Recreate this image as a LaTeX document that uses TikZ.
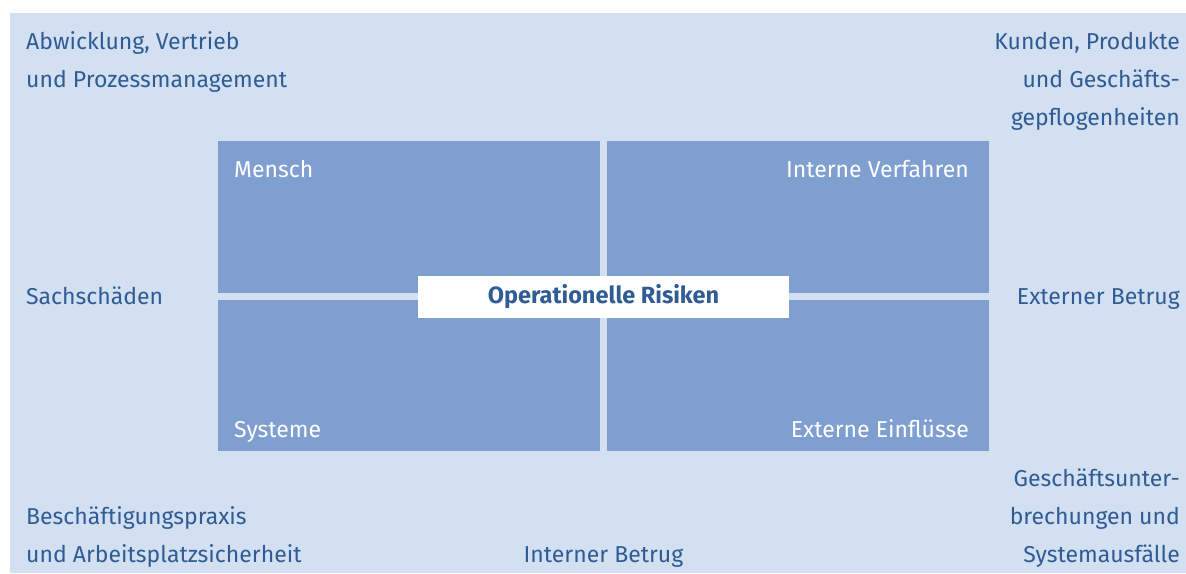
\documentclass[tikz,border=0pt]{standalone}
\usepackage{fontspec}
\setmainfont{Fira Sans}
\definecolor{bgblue}{HTML}{D3E0F1}
\definecolor{boxblue}{HTML}{7F9FD0}
\definecolor{txtblue}{HTML}{2F5C94}
\begin{document}
\begin{tikzpicture}[x=1pt,y=-1pt,
  lbl/.style={inner sep=0pt,font=\fontsize{23}{28}\selectfont,text=txtblue},
  inlbl/.style={inner sep=0pt,font=\fontsize{23}{28}\selectfont,text=white},
  field/.style={fill=boxblue,draw=none}]
\useasboundingbox (0,0) rectangle (1186,573);
\fill[bgblue] (10,13) rectangle (1186,573);
% four risk fields
\fill[field] (218,141) rectangle (600,293);
\fill[field] (607,141) rectangle (989,293);
\fill[field] (218,300) rectangle (600,451);
\fill[field] (607,300) rectangle (989,451);
\node[inlbl,anchor=base west] (mensch) at (234,177) {Mensch};
\node[inlbl,anchor=base east] (intverf) at (969,177) {Interne Verfahren};
\node[inlbl,anchor=base west] (systeme) at (234,437) {Systeme};
\node[inlbl,anchor=base east] (extein) at (969,437) {Externe Einflüsse};
% centre label
\node[fill=white,minimum width=371pt,minimum height=42pt,inner sep=0pt,
  text=txtblue,font=\fontsize{23.5}{28}\selectfont\bfseries] (oprisk) at (603.5,297) {Operationelle Risiken};
% surrounding categories
\node[lbl,anchor=base west] (abw1) at (26,49) {Abwicklung, Vertrieb};
\node[lbl,anchor=base west] (abw2) at (26,87) {und Prozessmanagement};
\node[lbl,anchor=base east] (kun1) at (1180,49) {Kunden, Produkte};
\node[lbl,anchor=base east] (kun2) at (1180,87) {und Geschäfts-};
\node[lbl,anchor=base east] (kun3) at (1180,125) {gepflogenheiten};
\node[lbl,anchor=base west] (sach) at (26,304) {Sachschäden};
\node[lbl,anchor=base east] (extbetr) at (1180,304) {Externer Betrug};
\node[lbl,anchor=base west] (besch) at (26,524) {Beschäftigungspraxis};
\node[lbl,anchor=base west] (arbeit) at (26,562) {und Arbeitsplatzsicherheit};
\node[lbl,anchor=base] (intbetr) at (603.5,562) {Interner Betrug};
\node[lbl,anchor=base east] (gesch1) at (1180,486) {Geschäftsunter-};
\node[lbl,anchor=base east] (gesch2) at (1180,524) {brechungen und};
\node[lbl,anchor=base east] (gesch3) at (1180,562) {Systemausfälle};
\end{tikzpicture}
\end{document}
